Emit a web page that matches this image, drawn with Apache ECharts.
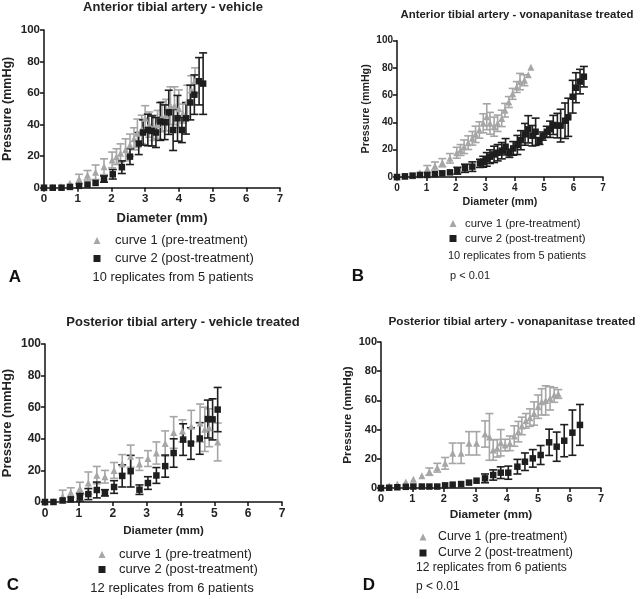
<!DOCTYPE html>
<html><head><meta charset="utf-8">
<script src="https://cdn.jsdelivr.net/npm/echarts@6/dist/echarts.min.js"></script>
<style>html,body{margin:0;padding:0;background:#fff}#c{width:642px;height:599px}</style>
</head><body><div id="c"></div>
<script>
// ---- Data (diameter mm, mean pressure mmHg, error mmHg) ----
// Panel A: Anterior tibial artery - vehicle
const a1x = [0,0.25,0.5,0.77,1.04,1.29,1.53,1.78,2.02,2.15,2.27,2.42,2.55,2.67,2.77,2.9,3.0,3.12,3.25,3.37,3.5,3.62,3.75,3.87,4.0,4.12,4.25,4.37,4.48];
const a1y = [0,0.3,0.8,2.8,5.5,7.9,9.8,13.3,17.6,19.7,21.8,24,27,31,34.5,37,44,40,38,40,45,46,52,52,50,47,55,62,68];
const a1e = [0,0.3,0.5,1,3,3,4.6,5,5,5,6,7,7,7,9,9,8,8,8,9,9.5,10,12,12,12,6,10,9,8];
const a2x = [0,0.26,0.52,0.77,1.04,1.29,1.53,1.78,2.04,2.31,2.55,2.81,2.94,3.08,3.2,3.32,3.45,3.58,3.7,3.83,3.96,4.09,4.21,4.34,4.46,4.6,4.72];
const a2y = [0,0,0,0.5,1.2,2,3,5.5,8.5,13,19.7,28,35,36.6,36,35,42,41.5,47.8,36.6,44,36.6,44,54,59,67.5,66];
const a2e = [0,0,0,0.3,0.5,0.8,1,2,3,4,5,7,8,10,9.5,9.5,12,11,14,13,14.5,8,10,11,12.5,15,19.5];
// Panel B: Anterior tibial artery - vonapanitase treated
const b1x = [0,0.27,0.53,0.78,1.03,1.29,1.54,1.8,2.03,2.16,2.28,2.42,2.56,2.67,2.8,2.93,3.05,3.16,3.3,3.42,3.56,3.67,3.8,3.93,4.07,4.18,4.33,4.46,4.55];
const b1y = [0,0.3,1,3.2,5.9,8,10.5,13.7,17.8,19.8,22.2,25.2,28.4,31.3,34.5,39.4,44.2,39.4,36.9,39.4,43,49,55,61,66,70,71,75,80.5];
const b1e = [0,0.2,0.5,1,2.5,3,3,3.5,4,4,5,5,5,6,6,7,9.5,8,7,6,6,5,4,4,4,6,4,1,2];
const b2x = [0,0.27,0.53,0.78,1.03,1.29,1.54,1.8,2.05,2.31,2.56,2.82,2.93,3.05,3.16,3.3,3.42,3.56,3.69,3.82,3.95,4.09,4.21,4.35,4.46,4.6,4.71,4.84,4.95,5.09,5.2,5.31,5.45,5.56,5.71,5.82,5.97,6.08,6.22,6.35];
const b2y = [0,0.5,1,1.5,1.5,2,2.7,3.4,4.6,6.4,7.6,10,11.2,12.9,14.9,16.6,17.8,19.3,22.2,17.4,21,23.5,27,31.3,35,30.3,33.2,26.4,30,33.2,35,38.2,37.7,37.7,41.3,43.8,58.9,65.5,70,73.6];
const b2e = [0,0.3,0.5,0.8,0.8,1,1.2,1.5,2.5,3,3.5,3,4,5,5,6,6,6,6,3,5,7,7,8,10,7.5,10,2.5,3,4,6,7,9,12,13,14,12,11,9,7.5];
// Panel C: Posterior tibial artery - vehicle treated
const c1x = [0,0.25,0.52,0.76,1.03,1.28,1.53,1.77,2.04,2.28,2.53,2.79,3.04,3.29,3.55,3.8,4.06,4.32,4.58,4.72,4.85,5.1];
const c1y = [0,0.5,3.5,6,8.5,12,17,16,20,24,29,24,27.5,31,37,44,45,48,50,46,47,38];
const c1e = [0,0.5,4,3,4,7,5.5,4,5,6,7,4,5,7,8,10,7,10,12,14,12,12];
const c2x = [0,0.25,0.52,0.76,1.03,1.28,1.53,1.77,2.04,2.28,2.53,2.79,3.04,3.29,3.55,3.8,4.08,4.31,4.57,4.81,4.95,5.1];
const c2y = [0,0,1,1.7,3,5,7.6,5.8,9.5,16.5,19.5,7.8,12,16.8,22.7,31,39.5,37,40.2,52.5,52.3,58.5];
const c2e = [0,0,1,1,2.5,3.5,5,2,4,7,10,3,4,5,7,9,10,10,10,12,13,14];
// Panel D: Posterior tibial artery - vonapanitase treated
const d1x = [0,0.26,0.52,0.79,1.03,1.3,1.54,1.79,2.04,2.28,2.55,2.8,3.04,3.31,3.45,3.57,3.7,3.81,3.95,4.1,4.24,4.37,4.48,4.61,4.74,4.87,5.0,5.11,5.24,5.38,5.51,5.64];
const d1y = [0,1.6,2.7,4.1,6,8.4,11.2,13.9,16.9,23.8,23.8,30.6,30.6,37,35,26,27.2,31,29.4,30.6,35.6,38.6,42.5,46,48.2,51,55.7,59,60,61.4,63.7,64.4];
const d1e = [0,0.5,0.8,1,1.5,2,2.5,3,4,7,7,8,8,9,16,7,6,9,4,5,7,7,6,5,6,8,8,9,10,8,5,3];
const d2x = [0,0.26,0.52,0.79,1.03,1.3,1.54,1.79,2.04,2.28,2.55,2.8,3.04,3.31,3.57,3.81,4.05,4.34,4.58,4.83,5.08,5.35,5.59,5.83,6.09,6.33];
const d2y = [0,0.2,0.5,0.8,1,1,1,1,1.8,2.3,2.7,3.7,5,6.6,8.9,10.5,10.5,14.6,18,20.3,22.6,31.3,28.3,32.4,37.9,43.2];
const d2e = [0,0.2,0.3,0.5,0.5,0.5,0.5,0.5,0.8,1,1,1.5,2,3,3.5,4,4.5,5,6,6,6.5,9,10,11,15.5,14];

const xTicks = {min:0, max:7, interval:1};
const yTicks = {min:0, max:100, interval:20};

const titles = ['Anterior tibial artery - vehicle','Anterior tibial artery - vonapanitase treated','Posterior tibial artery - vehicle treated','Posterior tibial artery - vonapanitase treated'];
const legendNames = [
  ['curve 1 (pre-treatment)','curve 2 (post-treatment)'],
  ['curve 1 (pre-treatment)','curve 2 (post-treatment)'],
  ['curve 1 (pre-treatment)','curve 2 (post-treatment)'],
  ['Curve 1 (pre-treatment)','Curve 2 (post-treatment)']
];
const notes = ['10 replicates from 5 patients','10 replicates from 5 patients','12 replicates from 6 patients','12 replicates from 6 patients'];
const pNote = 'p < 0.01';
const letters = ['A','B','C','D'];

// ---- Layout ----
const FONT = '"Liberation Sans", Arial, Helvetica, sans-serif';
const GREY = '#a6a6a6', BLACK = '#1e1e1e';
const L = [
  {grid:{left:43,top:30,width:237,height:157.7}, tick:11.5, xName:13, yName:12.5, xGap:24, yGap:30, xMargin:5,
   title:[173,7,13], legend:{left:93.5,top:234,gap:5,font:13,pad:9.5}, note:[173,277,12.8], p:null, letter:[15,277]},
  {grid:{left:397,top:40.7,width:206,height:136.3}, tick:10, xName:10.7, yName:10.7, xGap:20, yGap:25, xMargin:6,
   title:[517,15,11.4], legend:{left:449.5,top:218,gap:4,font:11.3,pad:3.5}, note:[517,256,11], p:[450,276,11], letter:[358,276]},
  {grid:{left:44,top:344,width:238,height:158}, tick:12, xName:11.5, yName:13, xGap:23, yGap:31, xMargin:6,
   title:[183,322,13], legend:{left:98.5,top:548,gap:2,font:13,pad:8.5}, note:[172,588,13], p:null, letter:[13,585]},
  {grid:{left:381,top:342,width:220,height:146}, tick:11, xName:11.8, yName:11.7, xGap:21, yGap:27.5, xMargin:5,
   title:[512,322,11.8], legend:{left:419.5,top:531,gap:4,font:12.4,pad:6.5}, note:[416,568,12], p:[416,587,12], letter:[369,585]}
];
const DATA = [[a1x,a1y,a1e,a2x,a2y,a2e],[b1x,b1y,b1e,b2x,b2y,b2e],[c1x,c1y,c1e,c2x,c2y,c2e],[d1x,d1y,d1e,d2x,d2y,d2e]];

function errSeries(xs, ys, es, gi, color, name){
  return {
    type:'custom', name:name, xAxisIndex:gi, yAxisIndex:gi, silent:true, z:2,
    data: xs.map((x,i)=>[x, ys[i]-es[i], ys[i]+es[i]]),
    encode:{x:0, y:[1,2]},
    renderItem(params, api){
      const x = api.value(0);
      const lo = api.coord([x, api.value(1)]);
      const hi = api.coord([x, api.value(2)]);
      if (lo[1]-hi[1] < 6) return null;
      const w = 4;
      const st = {stroke:color, lineWidth:1.6, fill:null};
      return {type:'group', children:[
        {type:'line', shape:{x1:lo[0],y1:lo[1],x2:hi[0],y2:hi[1]}, style:st},
        {type:'line', shape:{x1:lo[0]-w,y1:lo[1],x2:lo[0]+w,y2:lo[1]}, style:st},
        {type:'line', shape:{x1:hi[0]-w,y1:hi[1],x2:hi[0]+w,y2:hi[1]}, style:st}
      ]};
    }
  };
}

const grids=[], xAxes=[], yAxes=[], series=[], legends=[], graphics=[];
L.forEach((p, gi)=>{
  grids.push(p.grid);
  const axLine = {show:true, onZero:false, lineStyle:{color:'#111', width:1.5}};
  const axTick = {show:true, length:4, lineStyle:{color:'#111', width:1.5}};
  xAxes.push({gridIndex:gi, type:'value', min:xTicks.min, max:xTicks.max, interval:xTicks.interval,
    axisLine:axLine, axisTick:axTick, splitLine:{show:false},
    axisLabel:{fontSize:p.tick, fontWeight:'bold', color:'#222', fontFamily:FONT, margin:p.xMargin},
    name:'Diameter (mm)', nameLocation:'middle', nameGap:p.xGap,
    nameTextStyle:{fontSize:p.xName, fontWeight:'bold', color:'#222', fontFamily:FONT}});
  yAxes.push({gridIndex:gi, type:'value', min:yTicks.min, max:yTicks.max, interval:yTicks.interval,
    axisLine:axLine, axisTick:axTick, splitLine:{show:false},
    axisLabel:{fontSize:p.tick, fontWeight:'bold', color:'#222', fontFamily:FONT, margin:4},
    name:'Pressure (mmHg)', nameLocation:'middle', nameGap:p.yGap, nameRotate:90,
    nameTextStyle:{fontSize:p.yName, fontWeight:'bold', color:'#222', fontFamily:FONT}});
  const [x1,y1,e1,x2,y2,e2] = DATA[gi];
  const n1 = legendNames[gi][0], n2 = legendNames[gi][1];
  series.push(errSeries(x1,y1,e1,gi,GREY,n1));
  series.push({type:'scatter', name:n1, xAxisIndex:gi, yAxisIndex:gi, symbol:'triangle', symbolSize:7, z:3,
    itemStyle:{color:GREY, opacity:1}, data:x1.map((x,i)=>[x,y1[i]]), silent:true});
  series.push(errSeries(x2,y2,e2,gi,BLACK,n2));
  series.push({type:'scatter', name:n2, xAxisIndex:gi, yAxisIndex:gi, symbol:'rect', symbolSize:6.5, z:4,
    itemStyle:{color:BLACK, opacity:1}, data:x2.map((x,i)=>[x,y2[i]]), silent:true});
  legends.push({orient:'vertical', left:p.legend.left, top:p.legend.top, padding:0, itemGap:p.legend.gap,
    itemWidth:7, itemHeight:7, selectedMode:false,
    textStyle:{fontSize:p.legend.font, color:'#222', fontFamily:FONT, padding:[0,0,0,p.legend.pad]},
    data:[{name:n1, icon:'triangle', itemStyle:{color:GREY}}, {name:n2, icon:'rect', itemStyle:{color:BLACK}}]});
  graphics.push({type:'text', x:p.title[0], y:p.title[1], style:{text:titles[gi], font:'bold '+p.title[2]+'px '+FONT, fill:'#222', align:'center', verticalAlign:'middle'}});
  graphics.push({type:'text', x:p.note[0], y:p.note[1], style:{text:notes[gi], font:p.note[2]+'px '+FONT, fill:'#222', align: gi===3?'left':'center', verticalAlign:'middle'}});
  if (p.p) graphics.push({type:'text', x:p.p[0], y:p.p[1], style:{text:pNote, font:p.p[2]+'px '+FONT, fill:'#222', align:'left', verticalAlign:'middle'}});
  graphics.push({type:'text', x:p.letter[0], y:p.letter[1], style:{text:letters[gi], font:'bold 17px '+FONT, fill:'#111', align:'center', verticalAlign:'middle'}});
});

const chart = echarts.init(document.getElementById('c'), null, {renderer:'canvas'});
chart.setOption({
  animation:false, backgroundColor:'#fff',
  grid:grids, xAxis:xAxes, yAxis:yAxes, series:series, legend:legends, graphic:graphics
});
</script></body></html>
